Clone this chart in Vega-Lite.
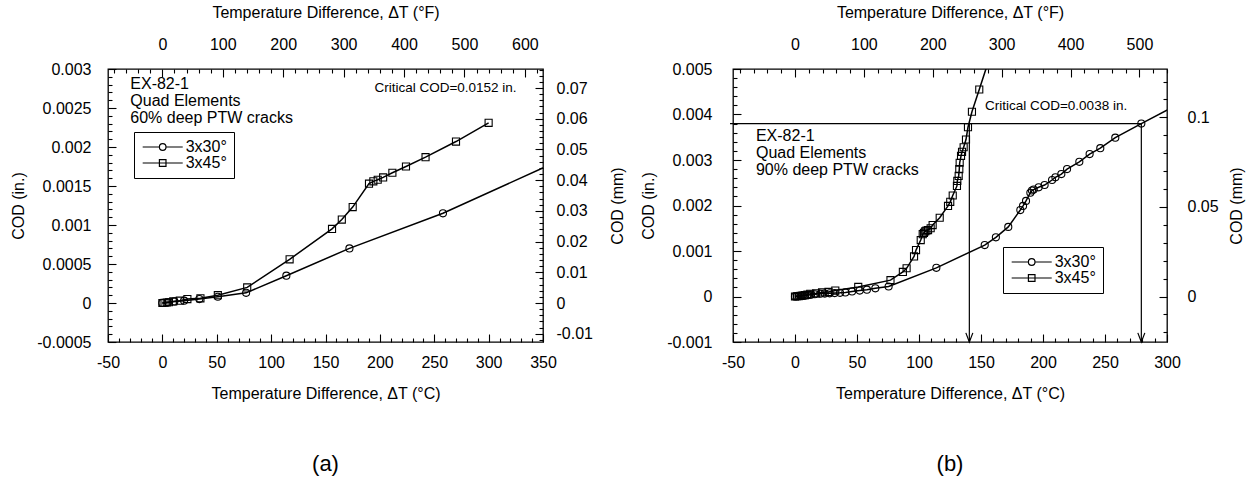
{
  "$schema": "https://vega.github.io/schema/vega-lite/v6.json",
  "background": "white",
  "padding": {"left": 10, "top": 3, "right": 5, "bottom": 5},
  "autosize": {"type": "pad"},
  "config": {
    "font": "Liberation Sans",
    "view": {"stroke": "black", "strokeWidth": 1.3},
    "axis": {"grid": false, "domain": false, "tickColor": "black", "tickWidth": 1.1, "labelColor": "black", "titleColor": "black", "labelFontSize": 16, "titleFontSize": 16, "titleFontWeight": "normal", "labelFont": "Liberation Sans", "titleFont": "Liberation Sans", "labelFlush": false, "labelOverlap": false, "labelBound": false},
    "legend": {"strokeColor": "black", "fillColor": "white", "padding": 7, "labelFontSize": 16, "labelFont": "Liberation Sans", "labelColor": "black", "symbolSize": 196, "symbolStrokeWidth": 1.2, "symbolStrokeColor": "black", "symbolFillColor": "transparent", "symbolOffset": 13.7, "labelOffset": 15, "rowPadding": -3.5, "symbolOpacity": 1},
    "title": {"font": "Liberation Sans", "fontSize": 22, "fontWeight": "normal", "color": "black"}
  },
  "datasets": {
    "a": [
      {"series": "3x30°", "T": 0, "COD": 0}, {"series": "3x30°", "T": 5, "COD": 0.00001}, {"series": "3x30°", "T": 11, "COD": 0.00002}, {"series": "3x30°", "T": 20, "COD": 0.00003}, {"series": "3x30°", "T": 34, "COD": 0.00005}, {"series": "3x30°", "T": 51, "COD": 0.00008}, {"series": "3x30°", "T": 77, "COD": 0.00013}, {"series": "3x30°", "T": 114, "COD": 0.00035}, {"series": "3x30°", "T": 172, "COD": 0.0007}, {"series": "3x30°", "T": 258, "COD": 0.00115}, {"series": "3x30°", "T": 370, "COD": 0.00186},
      {"series": "3x45°", "T": 0, "COD": 0}, {"series": "3x45°", "T": 2, "COD": 0.000003}, {"series": "3x45°", "T": 4, "COD": 0.000006}, {"series": "3x45°", "T": 6, "COD": 0.00001}, {"series": "3x45°", "T": 10, "COD": 0.00002}, {"series": "3x45°", "T": 16, "COD": 0.00003}, {"series": "3x45°", "T": 23, "COD": 0.00005}, {"series": "3x45°", "T": 35, "COD": 0.00006}, {"series": "3x45°", "T": 51, "COD": 0.0001}, {"series": "3x45°", "T": 78, "COD": 0.0002}, {"series": "3x45°", "T": 117, "COD": 0.00056}, {"series": "3x45°", "T": 156, "COD": 0.00095}, {"series": "3x45°", "T": 165, "COD": 0.00107}, {"series": "3x45°", "T": 175, "COD": 0.00123}, {"series": "3x45°", "T": 190, "COD": 0.00153}, {"series": "3x45°", "T": 194, "COD": 0.00156}, {"series": "3x45°", "T": 198, "COD": 0.00158}, {"series": "3x45°", "T": 203, "COD": 0.00161}, {"series": "3x45°", "T": 211.5, "COD": 0.00167}, {"series": "3x45°", "T": 224, "COD": 0.00175}, {"series": "3x45°", "T": 242, "COD": 0.00187}, {"series": "3x45°", "T": 270, "COD": 0.00207}, {"series": "3x45°", "T": 300, "COD": 0.00231}
    ],
    "b": [
      {"series": "3x30°", "T": 0, "COD": 0}, {"series": "3x30°", "T": 1.5, "COD": 0.000005}, {"series": "3x30°", "T": 3, "COD": 0.00001}, {"series": "3x30°", "T": 4.5, "COD": 0.000015}, {"series": "3x30°", "T": 6, "COD": 0.00002}, {"series": "3x30°", "T": 8, "COD": 0.000025}, {"series": "3x30°", "T": 10, "COD": 0.00003}, {"series": "3x30°", "T": 13, "COD": 0.00004}, {"series": "3x30°", "T": 16, "COD": 0.00005}, {"series": "3x30°", "T": 20.4, "COD": 0.00006}, {"series": "3x30°", "T": 24, "COD": 0.000065}, {"series": "3x30°", "T": 28, "COD": 0.00007}, {"series": "3x30°", "T": 32, "COD": 0.000075}, {"series": "3x30°", "T": 36.3, "COD": 0.00008}, {"series": "3x30°", "T": 40.6, "COD": 0.00009}, {"series": "3x30°", "T": 46, "COD": 0.00011}, {"series": "3x30°", "T": 52.2, "COD": 0.00013}, {"series": "3x30°", "T": 58, "COD": 0.00015}, {"series": "3x30°", "T": 64.8, "COD": 0.00018}, {"series": "3x30°", "T": 75.5, "COD": 0.00022}, {"series": "3x30°", "T": 114, "COD": 0.00063}, {"series": "3x30°", "T": 153, "COD": 0.00113}, {"series": "3x30°", "T": 162, "COD": 0.0013}, {"series": "3x30°", "T": 172, "COD": 0.00153}, {"series": "3x30°", "T": 181.7, "COD": 0.0019}, {"series": "3x30°", "T": 183.9, "COD": 0.00199}, {"series": "3x30°", "T": 186.3, "COD": 0.0021}, {"series": "3x30°", "T": 189.8, "COD": 0.00228}, {"series": "3x30°", "T": 191.1, "COD": 0.00233}, {"series": "3x30°", "T": 192.5, "COD": 0.00235}, {"series": "3x30°", "T": 196.5, "COD": 0.0024}, {"series": "3x30°", "T": 201.3, "COD": 0.00245}, {"series": "3x30°", "T": 207.3, "COD": 0.00256}, {"series": "3x30°", "T": 210, "COD": 0.00262}, {"series": "3x30°", "T": 214.8, "COD": 0.00269}, {"series": "3x30°", "T": 219.4, "COD": 0.0028}, {"series": "3x30°", "T": 229.3, "COD": 0.00296}, {"series": "3x30°", "T": 237.6, "COD": 0.00313}, {"series": "3x30°", "T": 246.2, "COD": 0.00326}, {"series": "3x30°", "T": 258.3, "COD": 0.00349}, {"series": "3x30°", "T": 279.3, "COD": 0.0038}, {"series": "3x30°", "T": 320, "COD": 0.00438},
      {"series": "3x45°", "T": 0, "COD": 0}, {"series": "3x45°", "T": 1.5, "COD": 0.000005}, {"series": "3x45°", "T": 3, "COD": 0.00001}, {"series": "3x45°", "T": 4.5, "COD": 0.000015}, {"series": "3x45°", "T": 6, "COD": 0.00002}, {"series": "3x45°", "T": 8, "COD": 0.00003}, {"series": "3x45°", "T": 10, "COD": 0.00004}, {"series": "3x45°", "T": 12.3, "COD": 0.00006}, {"series": "3x45°", "T": 17, "COD": 0.00007}, {"series": "3x45°", "T": 21.8, "COD": 0.00009}, {"series": "3x45°", "T": 27, "COD": 0.0001}, {"series": "3x45°", "T": 32.5, "COD": 0.00013}, {"series": "3x45°", "T": 51, "COD": 0.00021}, {"series": "3x45°", "T": 77, "COD": 0.00036}, {"series": "3x45°", "T": 87, "COD": 0.00054}, {"series": "3x45°", "T": 90, "COD": 0.00062}, {"series": "3x45°", "T": 96, "COD": 0.00088}, {"series": "3x45°", "T": 97.6, "COD": 0.00102}, {"series": "3x45°", "T": 101.4, "COD": 0.00124}, {"series": "3x45°", "T": 103, "COD": 0.00137}, {"series": "3x45°", "T": 104, "COD": 0.0014}, {"series": "3x45°", "T": 105, "COD": 0.00143}, {"series": "3x45°", "T": 106, "COD": 0.00145}, {"series": "3x45°", "T": 107.3, "COD": 0.00146}, {"series": "3x45°", "T": 109.4, "COD": 0.0015}, {"series": "3x45°", "T": 111, "COD": 0.00157}, {"series": "3x45°", "T": 116.7, "COD": 0.00173}, {"series": "3x45°", "T": 123.4, "COD": 0.00199}, {"series": "3x45°", "T": 125.2, "COD": 0.00208}, {"series": "3x45°", "T": 127.2, "COD": 0.00222}, {"series": "3x45°", "T": 130.6, "COD": 0.00243}, {"series": "3x45°", "T": 130.9, "COD": 0.00254}, {"series": "3x45°", "T": 132, "COD": 0.00265}, {"series": "3x45°", "T": 132.5, "COD": 0.0028}, {"series": "3x45°", "T": 132.8, "COD": 0.00294}, {"series": "3x45°", "T": 133.9, "COD": 0.00309}, {"series": "3x45°", "T": 134.7, "COD": 0.00318}, {"series": "3x45°", "T": 136, "COD": 0.00328}, {"series": "3x45°", "T": 137.9, "COD": 0.00345}, {"series": "3x45°", "T": 139.5, "COD": 0.00372}, {"series": "3x45°", "T": 142.7, "COD": 0.00406}, {"series": "3x45°", "T": 148.6, "COD": 0.00455}, {"series": "3x45°", "T": 156, "COD": 0.00517}
    ],
    "ta": [
      {"T": -29.5, "COD": 0.002807, "label": "EX-82-1"},
      {"T": -29.5, "COD": 0.002589, "label": "Quad Elements"},
      {"T": -29.5, "COD": 0.002371, "label": "60% deep PTW cracks"}
    ],
    "ca": [{"T": 195, "COD": 0.002756, "label": "Critical COD=0.0152 in."}],
    "tb": [
      {"T": -31.5, "COD": 0.003527, "label": "EX-82-1"},
      {"T": -31.5, "COD": 0.003154, "label": "Quad Elements"},
      {"T": -31.5, "COD": 0.00278, "label": "90% deep PTW cracks"}
    ],
    "cb": [{"T": 153.2, "COD": 0.004187, "label": "Critical COD=0.0038 in."}],
    "rb": [
      {"T": -52.4, "T2": 279.3, "COD": 0.0038, "COD2": 0.0038},
      {"T": 140.6, "T2": 140.6, "COD": 0.0038, "COD2": -0.001},
      {"T": 279.3, "T2": 279.3, "COD": 0.0038, "COD2": -0.001}
    ],
    "arb": [{"T": 140.6, "COD": -0.001}, {"T": 279.3, "COD": -0.001}]
  },
  "bounds": "flush",
  "spacing": 190,
  "resolve": {"scale": {"shape": "independent"}, "legend": {"shape": "independent"}},
  "hconcat": [
    {
      "width": 435, "height": 273,
      "title": {"text": "(a)", "orient": "bottom", "offset": 53, "anchor": "middle"},
      "resolve": {"scale": {"x": "independent", "y": "independent"}},
      "layer": [
        {
          "data": {"values": [{"F": 0, "mm": 0}]},
          "mark": {"type": "point", "opacity": 0},
          "encoding": {
            "x": {"field": "F", "type": "quantitative", "scale": {"domain": [-90, 630], "nice": false, "zero": false},
              "axis": {"orient": "top", "title": "Temperature Difference, ΔT (°F)", "values": [-80,-60,-40,-20,0,20,40,60,80,100,120,140,160,180,200,220,240,260,280,300,320,340,360,380,400,420,440,460,480,500,520,540,560,580,600,620],
                "labelExpr": "datum.value % 100 === 0 ? '' + datum.value : ''",
                "tickSize": {"condition": {"test": "datum.value % 100 === 0", "value": -8}, "value": -4},
                "labelPadding": 25, "titlePadding": 12}},
            "y": {"field": "mm", "type": "quantitative", "scale": {"domain": [-0.0127, 0.0762], "nice": false, "zero": false},
              "axis": {"orient": "right", "title": "COD (mm)", "titleAngle": 270, "titleBaseline": "top", "values": [-0.012,-0.01,-0.008,-0.006,-0.004,-0.002,0,0.002,0.004,0.006,0.008,0.01,0.012,0.014,0.016,0.018,0.02,0.022,0.024,0.026,0.028,0.03,0.032,0.034,0.036,0.038,0.04,0.042,0.044,0.046,0.048,0.05,0.052,0.054,0.056,0.058,0.06,0.062,0.064,0.066,0.068,0.07,0.072,0.074,0.076],
                "labelExpr": "round(datum.value*1000) % 10 === 0 ? '' + datum.value : ''",
                "tickSize": {"condition": {"test": "round(datum.value*1000) % 10 === 0", "value": -8}, "value": -4},
                "labelPadding": 21, "titlePadding": 17}}
          }
        },
        {
          "data": {"name": "a"},
          "encoding": {
            "x": {"field": "T", "type": "quantitative", "scale": {"domain": [-50, 350], "nice": false, "zero": false},
              "axis": {"orient": "bottom", "title": "Temperature Difference, ΔT (°C)", "values": [-50,-40,-30,-20,-10,0,10,20,30,40,50,60,70,80,90,100,110,120,130,140,150,160,170,180,190,200,210,220,230,240,250,260,270,280,290,300,310,320,330,340,350],
                "labelExpr": "datum.value % 50 === 0 ? '' + datum.value : ''",
                "tickSize": {"condition": {"test": "datum.value % 50 === 0", "value": -8}, "value": -4},
                "labelPadding": 20, "titlePadding": 11}},
            "y": {"field": "COD", "type": "quantitative", "scale": {"domain": [-0.0005, 0.003], "nice": false, "zero": false},
              "axis": {"orient": "left", "title": "COD (in.)", "values": [-0.0005,-0.0004,-0.0003,-0.0002,-0.0001,0,0.0001,0.0002,0.0003,0.0004,0.0005,0.0006,0.0007,0.0008,0.0009,0.001,0.0011,0.0012,0.0013,0.0014,0.0015,0.0016,0.0017,0.0018,0.0019,0.002,0.0021,0.0022,0.0023,0.0024,0.0025,0.0026,0.0027,0.0028,0.0029,0.003],
                "labelExpr": "round(datum.value*10000) % 5 === 0 ? '' + datum.value : ''",
                "tickSize": {"condition": {"test": "round(datum.value*10000) % 5 === 0", "value": -8}, "value": -4},
                "labelPadding": 25, "titlePadding": 10}}
          },
          "layer": [
            {"mark": {"type": "line", "color": "black", "strokeWidth": 1.5, "clip": true}, "encoding": {"detail": {"field": "series"}}},
            {"mark": {"type": "point", "filled": false, "color": "black", "strokeWidth": 1.1, "size": 50, "opacity": 1, "clip": true},
              "encoding": {"shape": {"condition": {"test": "datum.series === '3x30°'", "value": "circle"}, "value": "square"}}},
            {"mark": {"type": "point", "filled": false, "color": "black", "strokeWidth": 1.2, "opacity": 0, "clip": true},
              "encoding": {"shape": {"field": "series", "type": "nominal",
                "scale": {"domain": ["3x30°", "3x45°"], "range": ["M-2.86,0L-0.47,0M0.47,0L2.86,0M0.47,0A0.47,0.47,0,1,1,-0.47,0A0.47,0.47,0,1,1,0.47,0", "M-2.86,0L2.86,0M-0.47,-0.47L0.47,-0.47L0.47,0.47L-0.47,0.47Z"]},
                "legend": {"title": null, "orient": "none", "legendX": 26, "legendY": 63}}}},
            {"data": {"name": "ta"}, "mark": {"type": "text", "align": "left", "baseline": "middle", "fontSize": 16, "font": "Liberation Sans", "color": "black"}, "encoding": {"text": {"field": "label"}}},
            {"data": {"name": "ca"}, "mark": {"type": "text", "align": "left", "baseline": "middle", "fontSize": 13.5, "font": "Liberation Sans", "color": "black"}, "encoding": {"text": {"field": "label"}}}
          ]
        }
      ]
    },
    {
      "width": 434, "height": 273,
      "title": {"text": "(b)", "orient": "bottom", "offset": 53, "anchor": "middle"},
      "resolve": {"scale": {"x": "independent", "y": "independent"}},
      "layer": [
        {
          "data": {"values": [{"F": 0, "mm": 0}]},
          "mark": {"type": "point", "opacity": 0},
          "encoding": {
            "x": {"field": "F", "type": "quantitative", "scale": {"domain": [-90, 540], "nice": false, "zero": false},
              "axis": {"orient": "top", "title": "Temperature Difference, ΔT (°F)", "values": [-80,-60,-40,-20,0,20,40,60,80,100,120,140,160,180,200,220,240,260,280,300,320,340,360,380,400,420,440,460,480,500,520,540],
                "labelExpr": "datum.value % 100 === 0 ? '' + datum.value : ''",
                "tickSize": {"condition": {"test": "datum.value % 100 === 0", "value": -8}, "value": -4},
                "labelPadding": 25, "titlePadding": 12}},
            "y": {"field": "mm", "type": "quantitative", "scale": {"domain": [-0.0254, 0.127], "nice": false, "zero": false},
              "axis": {"orient": "right", "title": "COD (mm)", "titleAngle": 270, "titleBaseline": "top", "values": [-0.02,-0.01,0,0.01,0.02,0.03,0.04,0.05,0.06,0.07,0.08,0.09,0.1,0.11,0.12],
                "labelExpr": "round(datum.value*100) % 5 === 0 ? '' + datum.value : ''",
                "tickSize": {"condition": {"test": "round(datum.value*100) % 5 === 0", "value": -8}, "value": -4},
                "labelPadding": 28, "titlePadding": 10}}
          }
        },
        {
          "data": {"name": "b"},
          "encoding": {
            "x": {"field": "T", "type": "quantitative", "scale": {"domain": [-50, 300], "nice": false, "zero": false},
              "axis": {"orient": "bottom", "title": "Temperature Difference, ΔT (°C)", "values": [-50,-40,-30,-20,-10,0,10,20,30,40,50,60,70,80,90,100,110,120,130,140,150,160,170,180,190,200,210,220,230,240,250,260,270,280,290,300],
                "labelExpr": "datum.value % 50 === 0 ? '' + datum.value : ''",
                "tickSize": {"condition": {"test": "datum.value % 50 === 0", "value": -8}, "value": -4},
                "labelPadding": 20, "titlePadding": 11}},
            "y": {"field": "COD", "type": "quantitative", "scale": {"domain": [-0.001, 0.005], "nice": false, "zero": false},
              "axis": {"orient": "left", "title": "COD (in.)", "values": [-0.001,-0.0008,-0.0006,-0.0004,-0.0002,0,0.0002,0.0004,0.0006,0.0008,0.001,0.0012,0.0014,0.0016,0.0018,0.002,0.0022,0.0024,0.0026,0.0028,0.003,0.0032,0.0034,0.0036,0.0038,0.004,0.0042,0.0044,0.0046,0.0048,0.005],
                "labelExpr": "round(datum.value*10000) % 10 === 0 ? '' + datum.value : ''",
                "tickSize": {"condition": {"test": "round(datum.value*10000) % 10 === 0", "value": -8}, "value": -4},
                "labelPadding": 29, "titlePadding": 10}}
          },
          "layer": [
            {"mark": {"type": "line", "color": "black", "strokeWidth": 1.5, "clip": true}, "encoding": {"detail": {"field": "series"}}},
            {"mark": {"type": "point", "filled": false, "color": "black", "strokeWidth": 1.1, "size": 50, "opacity": 1, "clip": true},
              "encoding": {"shape": {"condition": {"test": "datum.series === '3x30°'", "value": "circle"}, "value": "square"}}},
            {"mark": {"type": "point", "filled": false, "color": "black", "strokeWidth": 1.2, "opacity": 0, "clip": true},
              "encoding": {"shape": {"field": "series", "type": "nominal",
                "scale": {"domain": ["3x30°", "3x45°"], "range": ["M-2.86,0L-0.47,0M0.47,0L2.86,0M0.47,0A0.47,0.47,0,1,1,-0.47,0A0.47,0.47,0,1,1,0.47,0", "M-2.86,0L2.86,0M-0.47,-0.47L0.47,-0.47L0.47,0.47L-0.47,0.47Z"]},
                "legend": {"title": null, "orient": "none", "legendX": 270, "legendY": 178}}}},
            {"data": {"name": "rb"}, "mark": {"type": "rule", "color": "black", "strokeWidth": 1.2, "clip": false}, "encoding": {"x2": {"field": "T2"}, "y2": {"field": "COD2"}}},
            {"data": {"name": "arb"}, "mark": {"type": "point", "shape": "M-1,-2.6L0,0L1,-2.6", "size": 49, "filled": false, "color": "black", "strokeWidth": 1.2, "opacity": 1, "clip": false}, "encoding": {}},
            {"data": {"name": "tb"}, "mark": {"type": "text", "align": "left", "baseline": "middle", "fontSize": 16, "font": "Liberation Sans", "color": "black"}, "encoding": {"text": {"field": "label"}}},
            {"data": {"name": "cb"}, "mark": {"type": "text", "align": "left", "baseline": "middle", "fontSize": 13.5, "font": "Liberation Sans", "color": "black"}, "encoding": {"text": {"field": "label"}}}
          ]
        }
      ]
    }
  ]
}
